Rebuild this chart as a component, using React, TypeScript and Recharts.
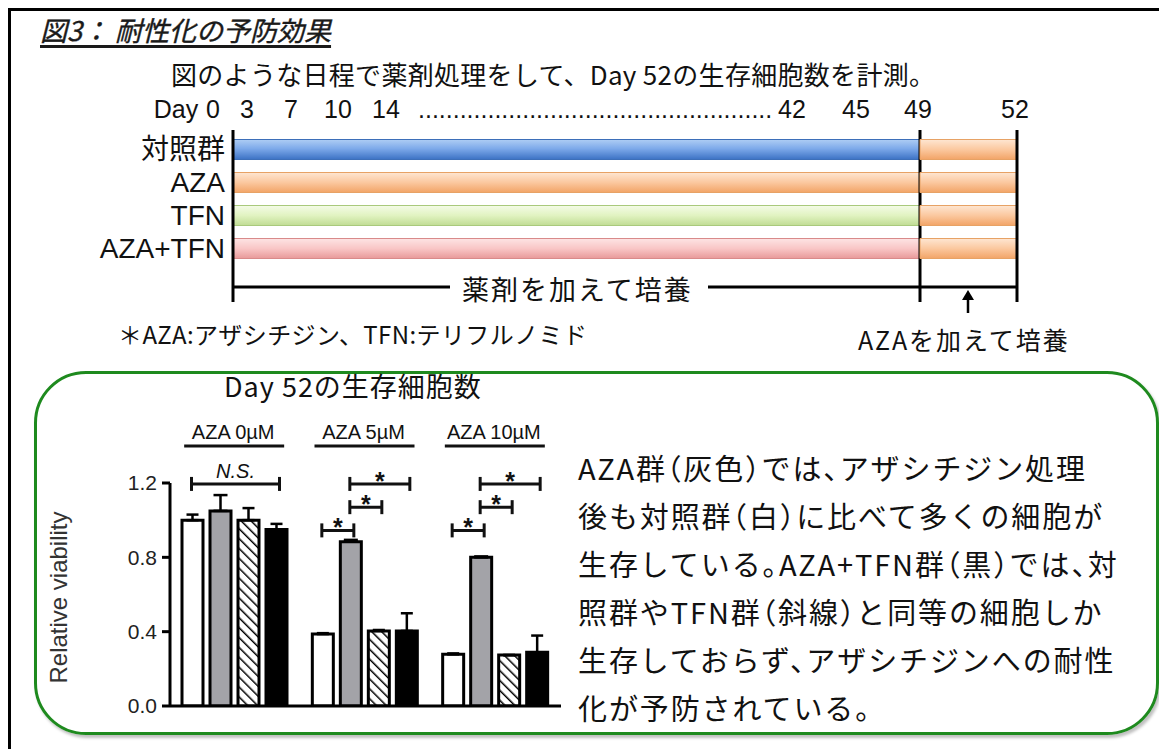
import React from 'react';
import { BarChart, Bar, XAxis, YAxis, ErrorBar, Cell, ReferenceLine, LabelList } from 'recharts';

// ---------- Data: bar chart (Day 52 relative viability) ----------
const groups = ['AZA 0µM', 'AZA 5µM', 'AZA 10µM'];
const controlValues = [1.0, 0.387, 0.278];
const controlErrors = [0.03, 0.005, 0.005];
const azaValues = [1.05, 0.884, 0.8];
const azaErrors = [0.085, 0.01, 0.005];
const tfnValues = [1.0, 0.404, 0.274];
const tfnErrors = [0.065, 0.005, 0.0];
const comboValues = [0.95, 0.404, 0.289];
const comboErrors = [0.03, 0.095, 0.09];
const yTicks = [0, 0.4, 0.8, 1.2];

// significance brackets: bar index inside group (0 control, 1 AZA, 2 TFN, 3 AZA+TFN)
const brackets = [
  { group: 0, from: 0, to: 3, level: 1.195, label: 'N.S.' },
  { group: 1, from: 0, to: 1, level: 0.945, label: '*' },
  { group: 1, from: 1, to: 2, level: 1.07, label: '*' },
  { group: 1, from: 1, to: 3, level: 1.195, label: '*' },
  { group: 2, from: 0, to: 1, level: 0.945, label: '*' },
  { group: 2, from: 1, to: 2, level: 1.07, label: '*' },
  { group: 2, from: 1, to: 3, level: 1.195, label: '*' },
];

// ---------- Data: schedule ----------
const scheduleRows = ['対照群', 'AZA', 'TFN', 'AZA+TFN'];
const treatmentPhase = [0, 49];
const azaPhase = [49, 52];
const dayLabels = ['Day', '0', '3', '7', '10', '14', '42', '45', '49', '52'];
const dayDots = '...................................................';

// layout (page x of each day label centre)
const dayLabelCenters = [176, 213, 247, 291, 338, 386, 792, 856, 918, 1015];

const paragraphLines = [
  'AZA群（灰色）では、アザシチジン処理',
  '後も対照群（白）に比べて多くの細胞が',
  '生存している。AZA+TFN群（黒）では、対',
  '照群やTFN群（斜線）と同等の細胞しか',
  '生存しておらず、アザシチジンへの耐性',
  '化が予防されている。',
];

const barData = groups.map((g, i) => ({
  group: g,
  control: controlValues[i],
  controlErr: [0, controlErrors[i]],
  aza: azaValues[i],
  azaErr: [0, azaErrors[i]],
  tfn: tfnValues[i],
  tfnErr: [0, tfnErrors[i]],
  combo: comboValues[i],
  comboErr: [0, comboErrors[i]],
}));

const rowFills = ['url(#gBlue)', 'url(#gOrange)', 'url(#gGreen)', 'url(#gPink)'];
const rowStrokes = ['#3d6fb9', '#e7a265', '#a9c97c', '#d98a8a'];

const scheduleLeftData = scheduleRows.map((r) => ({ name: r, phase: treatmentPhase }));
const scheduleRightData = scheduleRows.map((r) => ({ name: r, phase: azaPhase }));

const JP = '"Noto Sans CJK JP", "Noto Sans", sans-serif';
const ARIAL = '"Liberation Sans", Arial, "Noto Sans CJK JP", sans-serif';
const BAR_GAP = 7;

const renderBrackets = (props: any) => {
  const vb = props.viewBox || props;
  const x = Number(vb.x ?? props.x);
  const y = Number(vb.y ?? props.y);
  const width = Number(vb.width ?? props.width);
  const height = Number(vb.height ?? props.height);
  const value = Number(props.value);
  if (!(value > 0) || !isFinite(x)) return null;
  const gi = typeof props.index === 'number' ? props.index : azaValues.indexOf(value);
  const base = y + height;
  const pxPer = height / value;
  const cx = (bar: number) => x + width / 2 + (bar - 1) * (width + BAR_GAP);
  return (
    <g>
      {brackets
        .filter((b) => b.group === gi)
        .map((b, i) => {
          const yy = base - b.level * pxPer;
          const x1 = cx(b.from) - 1;
          const x2 = cx(b.to) + 3;
          const mid = (x1 + x2) / 2;
          return (
            <g key={i}>
              <line x1={x1} x2={x2} y1={yy} y2={yy} stroke="#111" strokeWidth={3} />
              <line x1={x1} x2={x1} y1={yy - 7} y2={yy + 7} stroke="#111" strokeWidth={3} />
              <line x1={x2} x2={x2} y1={yy - 7} y2={yy + 7} stroke="#111" strokeWidth={3} />
              {b.label === '*' ? (
                <text x={mid} y={yy + 6} textAnchor="middle" fontSize={25} fontWeight="bold" fontFamily={ARIAL} fill="#111">
                  *
                </text>
              ) : (
                <text x={mid} y={yy - 6} textAnchor="middle" fontSize={20} fontStyle="italic" fontFamily={ARIAL} fill="#111">
                  {b.label}
                </text>
              )}
            </g>
          );
        })}
    </g>
  );
};

const GroupTick = (props: any) => {
  const { x, y, payload } = props;
  return (
    <g>
      <text x={x - 2} y={y - 44} textAnchor="middle" fontSize={20} fontFamily={ARIAL} fill="#111">
        {payload.value}
      </text>
      <line x1={x - 51} x2={x + 49} y1={y - 37} y2={y - 37} stroke="#111" strokeWidth={3} />
    </g>
  );
};

const YLabel = (props: any) => {
  const vb = props.viewBox || {};
  const cx = (vb.x ?? 0) + 18;
  const cy = (vb.y ?? 0) + (vb.height ?? 0) / 2 + 3;
  return (
    <text x={cx} y={cy} transform={`rotate(-90 ${cx} ${cy})`} textAnchor="middle" dominantBaseline="central" fontSize={24} fontFamily={ARIAL} fill="#333">
      Relative viability
    </text>
  );
};

const Txt = ({ left, cy, size, children, style }: any) => (
  <div
    style={{
      position: 'absolute',
      left,
      top: cy - size / 2,
      fontSize: size,
      lineHeight: `${size}px`,
      whiteSpace: 'pre',
      fontFamily: JP,
      color: '#111',
      ...style,
    }}
  >
    {children}
  </div>
);

const GradDefs = ({ suffix = '' }: { suffix?: string }) => (
  <defs>
    <linearGradient id={`gBlue${suffix}`} x1="0" y1="0" x2="0" y2="1">
      <stop offset="0" stopColor="#aecdf4" />
      <stop offset="0.45" stopColor="#7eaaea" />
      <stop offset="1" stopColor="#3c72c4" />
    </linearGradient>
    <linearGradient id={`gOrange${suffix}`} x1="0" y1="0" x2="0" y2="1">
      <stop offset="0" stopColor="#fee6d2" />
      <stop offset="0.5" stopColor="#fbc89f" />
      <stop offset="1" stopColor="#f2a467" />
    </linearGradient>
    <linearGradient id={`gGreen${suffix}`} x1="0" y1="0" x2="0" y2="1">
      <stop offset="0" stopColor="#f4fbe7" />
      <stop offset="0.5" stopColor="#e1f3c1" />
      <stop offset="1" stopColor="#c0dc94" />
    </linearGradient>
    <linearGradient id={`gPink${suffix}`} x1="0" y1="0" x2="0" y2="1">
      <stop offset="0" stopColor="#fde4e4" />
      <stop offset="0.5" stopColor="#f9c6c6" />
      <stop offset="1" stopColor="#e89a9a" />
    </linearGradient>
  </defs>
);

export default function App() {
  return (
    <div style={{ position: 'absolute', left: 0, top: 0, width: 1159, height: 749, overflow: 'hidden', background: '#fff' }}>
      {/* outer frame */}
      <div style={{ position: 'absolute', left: 8, top: 8, width: 1300, height: 900, borderLeft: '3px solid #000', borderTop: '3px solid #000' }} />

      {/* title */}
      <Txt
        left={40}
        cy={29}
        size={27}
        style={{ fontStyle: 'italic', textDecoration: 'underline', textDecorationThickness: 3, textUnderlineOffset: 4, color: '#1a1a1a', WebkitTextStroke: '0.4px #1a1a1a' }}
      >
        {'図3： 耐性化の予防効果'}
      </Txt>
      <Txt left={171} cy={74} size={26} style={{ letterSpacing: 0.3 }}>
        図のような日程で薬剤処理をして、Day 52の生存細胞数を計測。
      </Txt>

      {/* day header */}
      {dayLabels.map((d, i) => (
        <div
          key={d + i}
          style={{
            position: 'absolute',
            left: dayLabelCenters[i] - 40,
            width: 80,
            textAlign: 'center',
            top: 97,
            fontSize: 25,
            lineHeight: '25px',
            fontFamily: ARIAL,
            color: '#111',
          }}
        >
          {d}
        </div>
      ))}
      <div style={{ position: 'absolute', left: 418, top: 97, fontSize: 25, lineHeight: '25px', fontFamily: ARIAL, color: '#111', whiteSpace: 'pre' }}>
        {dayDots}
      </div>

      {/* schedule: treatment phase (Day 0-49) */}
      <div style={{ position: 'absolute', left: 0, top: 120 }}>
        <BarChart width={930} height={190} data={scheduleLeftData} layout="vertical" margin={{ top: 10, right: 10, bottom: 8, left: 0 }}>
          <GradDefs />
          <XAxis type="number" domain={[0, 49]} hide />
          <YAxis
            type="category"
            dataKey="name"
            width={233}
            axisLine={false}
            tickLine={false}
            tickSize={0}
            tickMargin={8}
            padding={{ top: 2.5, bottom: 37.5 }}
            tick={{ fontSize: 28, fill: '#111', fontFamily: ARIAL }}
            interval={0}
          />
          <Bar dataKey="phase" barSize={20} isAnimationActive={false}>
            {scheduleLeftData.map((d, i) => (
              <Cell key={d.name} fill={rowFills[i]} stroke={rowStrokes[i]} strokeWidth={1} />
            ))}
          </Bar>
          <ReferenceLine x={0} stroke="#000" strokeWidth={3} ifOverflow="visible" />
          <ReferenceLine x={49} stroke="#000" strokeWidth={3} ifOverflow="visible" />
        </BarChart>
      </div>

      {/* schedule: AZA phase (Day 49-52) */}
      <div style={{ position: 'absolute', left: 915, top: 120 }}>
        <BarChart width={110} height={190} data={scheduleRightData} layout="vertical" margin={{ top: 10, right: 8, bottom: 8, left: 5 }}>
          <GradDefs suffix="R" />
          <XAxis type="number" domain={[49, 52]} hide />
          <YAxis type="category" dataKey="name" hide padding={{ top: 2.5, bottom: 37.5 }} />
          <Bar dataKey="phase" barSize={20} isAnimationActive={false}>
            {scheduleRightData.map((d) => (
              <Cell key={d.name} fill="url(#gOrangeR)" stroke="#e7a265" strokeWidth={1} />
            ))}
          </Bar>
          <ReferenceLine x={52} stroke="#000" strokeWidth={3} ifOverflow="visible" />
        </BarChart>
      </div>

      {/* schedule annotations */}
      <svg width={1159} height={749} style={{ position: 'absolute', left: 0, top: 0, pointerEvents: 'none' }}>
        <line x1={233} x2={450} y1={287} y2={287} stroke="#000" strokeWidth={3} />
        <line x1={708} x2={1017} y1={287} y2={287} stroke="#000" strokeWidth={3} />
        <line x1={968} x2={968} y1={313} y2={298} stroke="#000" strokeWidth={2.5} />
        <polygon points="962,300 968,290 974,300" fill="#000" />
      </svg>
      <Txt left={462} cy={288} size={27} style={{ letterSpacing: 2 }}>
        薬剤を加えて培養
      </Txt>
      <Txt left={118} cy={334} size={24} style={{ letterSpacing: 0.4 }}>
        ＊AZA:アザシチジン、TFN:テリフルノミド
      </Txt>
      <Txt left={858} cy={339} size={25} style={{ letterSpacing: 2 }}>
        AZAを加えて培養
      </Txt>

      {/* green rounded box */}
      <div
        style={{
          position: 'absolute',
          left: 34,
          top: 371,
          width: 1119,
          height: 358,
          border: '3px solid #1e8a1e',
          borderRadius: 52,
          boxShadow: '2px 3px 3px rgba(0,0,0,0.25)',
        }}
      />

      <Txt left={224} cy={385} size={27} style={{ letterSpacing: 1 }}>
        Day 52の生存細胞数
      </Txt>

      {/* bar chart */}
      <div style={{ position: 'absolute', left: 40, top: 400 }}>
        <BarChart width={530} height={320} data={barData} margin={{ top: 33, right: 9, bottom: 10, left: 0 }} barCategoryGap={12} barGap={BAR_GAP}>
          <defs>
            <pattern id="hatch" patternUnits="userSpaceOnUse" width="7" height="7" patternTransform="rotate(-45)">
              <rect width="7" height="7" fill="#fff" />
              <line x1="0" y1="0" x2="0" y2="7" stroke="#000" strokeWidth="3" />
            </pattern>
          </defs>
          <XAxis xAxisId="top" orientation="top" dataKey="group" axisLine={false} tickLine={false} tickSize={0} tickMargin={0} height={50} tick={<GroupTick />} interval={0} />
          <XAxis dataKey="group" tick={false} tickLine={false} axisLine={{ stroke: '#000', strokeWidth: 3 }} height={4} />
          <YAxis
            domain={[0, 1.2]}
            ticks={yTicks}
            tickFormatter={(v: number) => v.toFixed(1)}
            width={130}
            axisLine={{ stroke: '#000', strokeWidth: 3 }}
            tickLine={{ stroke: '#000', strokeWidth: 3 }}
            tickSize={8}
            tickMargin={5}
            tick={{ fontSize: 21, fill: '#222', fontFamily: ARIAL }}
            label={<YLabel />}
            allowDataOverflow
          />
          <Bar dataKey="control" fill="#fff" stroke="#000" strokeWidth={3} isAnimationActive={false}>
            <ErrorBar dataKey="controlErr" width={6} stroke="#000" strokeWidth={2.5} direction="y" />
          </Bar>
          <Bar dataKey="aza" fill="#a3a3a8" stroke="#000" strokeWidth={3} isAnimationActive={false}>
            <ErrorBar dataKey="azaErr" width={7} stroke="#000" strokeWidth={2.5} direction="y" />
            <LabelList dataKey="aza" content={renderBrackets} />
          </Bar>
          <Bar dataKey="tfn" fill="url(#hatch)" stroke="#000" strokeWidth={3} isAnimationActive={false}>
            <ErrorBar dataKey="tfnErr" width={6} stroke="#000" strokeWidth={2.5} direction="y" />
          </Bar>
          <Bar dataKey="combo" fill="#000" stroke="#000" strokeWidth={3} isAnimationActive={false}>
            <ErrorBar dataKey="comboErr" width={6} stroke="#000" strokeWidth={2.5} direction="y" />
          </Bar>
        </BarChart>
      </div>

      {/* explanatory paragraph */}
      {paragraphLines.map((line, i) => (
        <Txt key={i} left={578} cy={467 + i * 48} size={29} style={{ letterSpacing: 1.9, fontFeatureSettings: '"halt"' }}>
          {line}
        </Txt>
      ))}
    </div>
  );
}
